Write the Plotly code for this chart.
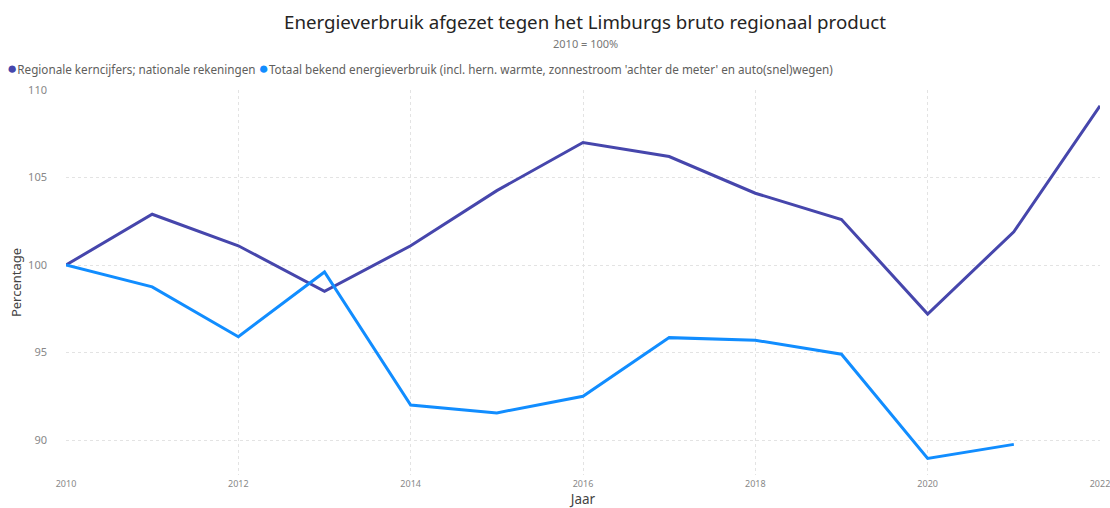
import plotly.graph_objects as go

# Index values, 2010 = 100
years = [2010, 2011, 2012, 2013, 2014, 2015, 2016, 2017, 2018, 2019, 2020, 2021, 2022]
brp_index = [100.0, 102.9, 101.1, 98.5, 101.1, 104.25, 107.0, 106.2, 104.1, 102.6, 97.2, 101.9, 109.1]
energy_years = [2010, 2011, 2012, 2013, 2014, 2015, 2016, 2017, 2018, 2019, 2020, 2021]
energy_index = [100.0, 98.75, 95.9, 99.6, 92.0, 91.55, 92.5, 95.85, 95.7, 94.9, 88.95, 89.75]

series_names = [
    "Regionale kerncijfers; nationale rekeningen",
    "Totaal bekend energieverbruik (incl. hern. warmte, zonnestroom 'achter de meter' en auto(snel)wegen)",
]
series_colors = ["#4646AC", "#118DFF"]

x_ticks = [2010, 2012, 2014, 2016, 2018, 2020, 2022]
y_ticks = [90, 95, 100, 105, 110]

title_text = "Energieverbruik afgezet tegen het Limburgs bruto regionaal product"
subtitle_text = "2010 = 100%"

FONT = "Segoe UI, Noto Sans, Open Sans, sans-serif"

fig = go.Figure()

for xs, ys, name, color in [
    (years, brp_index, series_names[0], series_colors[0]),
    (energy_years, energy_index, series_names[1], series_colors[1]),
]:
    fig.add_trace(go.Scatter(
        x=xs, y=ys, mode="lines", name=name,
        line=dict(color=color, width=3),
        showlegend=False,
        hovertemplate="%{x}: %{y:.1f}%<extra></extra>",
    ))

# Compact legend row: coloured dot followed by the series name
legend_html = " ".join(
    f"<span style='color:{c};font-size:17px'>●</span>{n}"
    for n, c in zip(series_names, series_colors)
)
fig.add_annotation(
    text=legend_html, showarrow=False,
    xref="paper", yref="paper", x=-0.059, y=1.0 + 23 / 385,
    xanchor="left", yanchor="middle",
    font=dict(size=11.7, color="#605E5C", family=FONT),
)

# Subtitle under the main title
fig.add_annotation(
    text=subtitle_text, showarrow=False,
    xref="paper", yref="paper", x=(585 - 66) / 1034, y=1.0 + 47 / 385,
    xanchor="center", yanchor="middle",
    font=dict(size=11, color="#777", family=FONT),
)

fig.update_layout(
    width=1110, height=508,
    margin=dict(l=66, r=10, t=90, b=33),
    paper_bgcolor="white", plot_bgcolor="white",
    font=dict(family=FONT, color="#605E5C"),
    title=dict(
        text=title_text,
        x=585 / 1110, xanchor="center", xref="container",
        y=1 - 22 / 508, yanchor="middle", yref="container",
        font=dict(size=18.7, color="#252423", family=FONT),
    ),
    xaxis=dict(
        range=[2010, 2022],
        tickvals=x_ticks,
        ticktext=[str(v) for v in x_ticks],
        tickfont=dict(size=9, color="#888"),
        ticklabeloverflow="allow",
        ticklabelstandoff=2,
        showgrid=True, gridcolor="#E3E3E3", griddash="dot", gridwidth=1,
        zeroline=False, showline=False, ticks="", ticklen=0,
        title=dict(text="Jaar", font=dict(size=13.5, color="#444"), standoff=13),
        automargin=False,
    ),
    yaxis=dict(
        range=[88, 110],
        tickvals=y_ticks,
        tickfont=dict(size=11, color="#888"),
        ticklabelstandoff=18,
        showgrid=True, gridcolor="#E3E3E3", griddash="dot", gridwidth=1,
        zeroline=False, showline=False, ticks="",
        title=dict(text="Percentage", font=dict(size=13, color="#444"), standoff=3),
        automargin=False,
    ),
)

fig.write_html("out.html")
